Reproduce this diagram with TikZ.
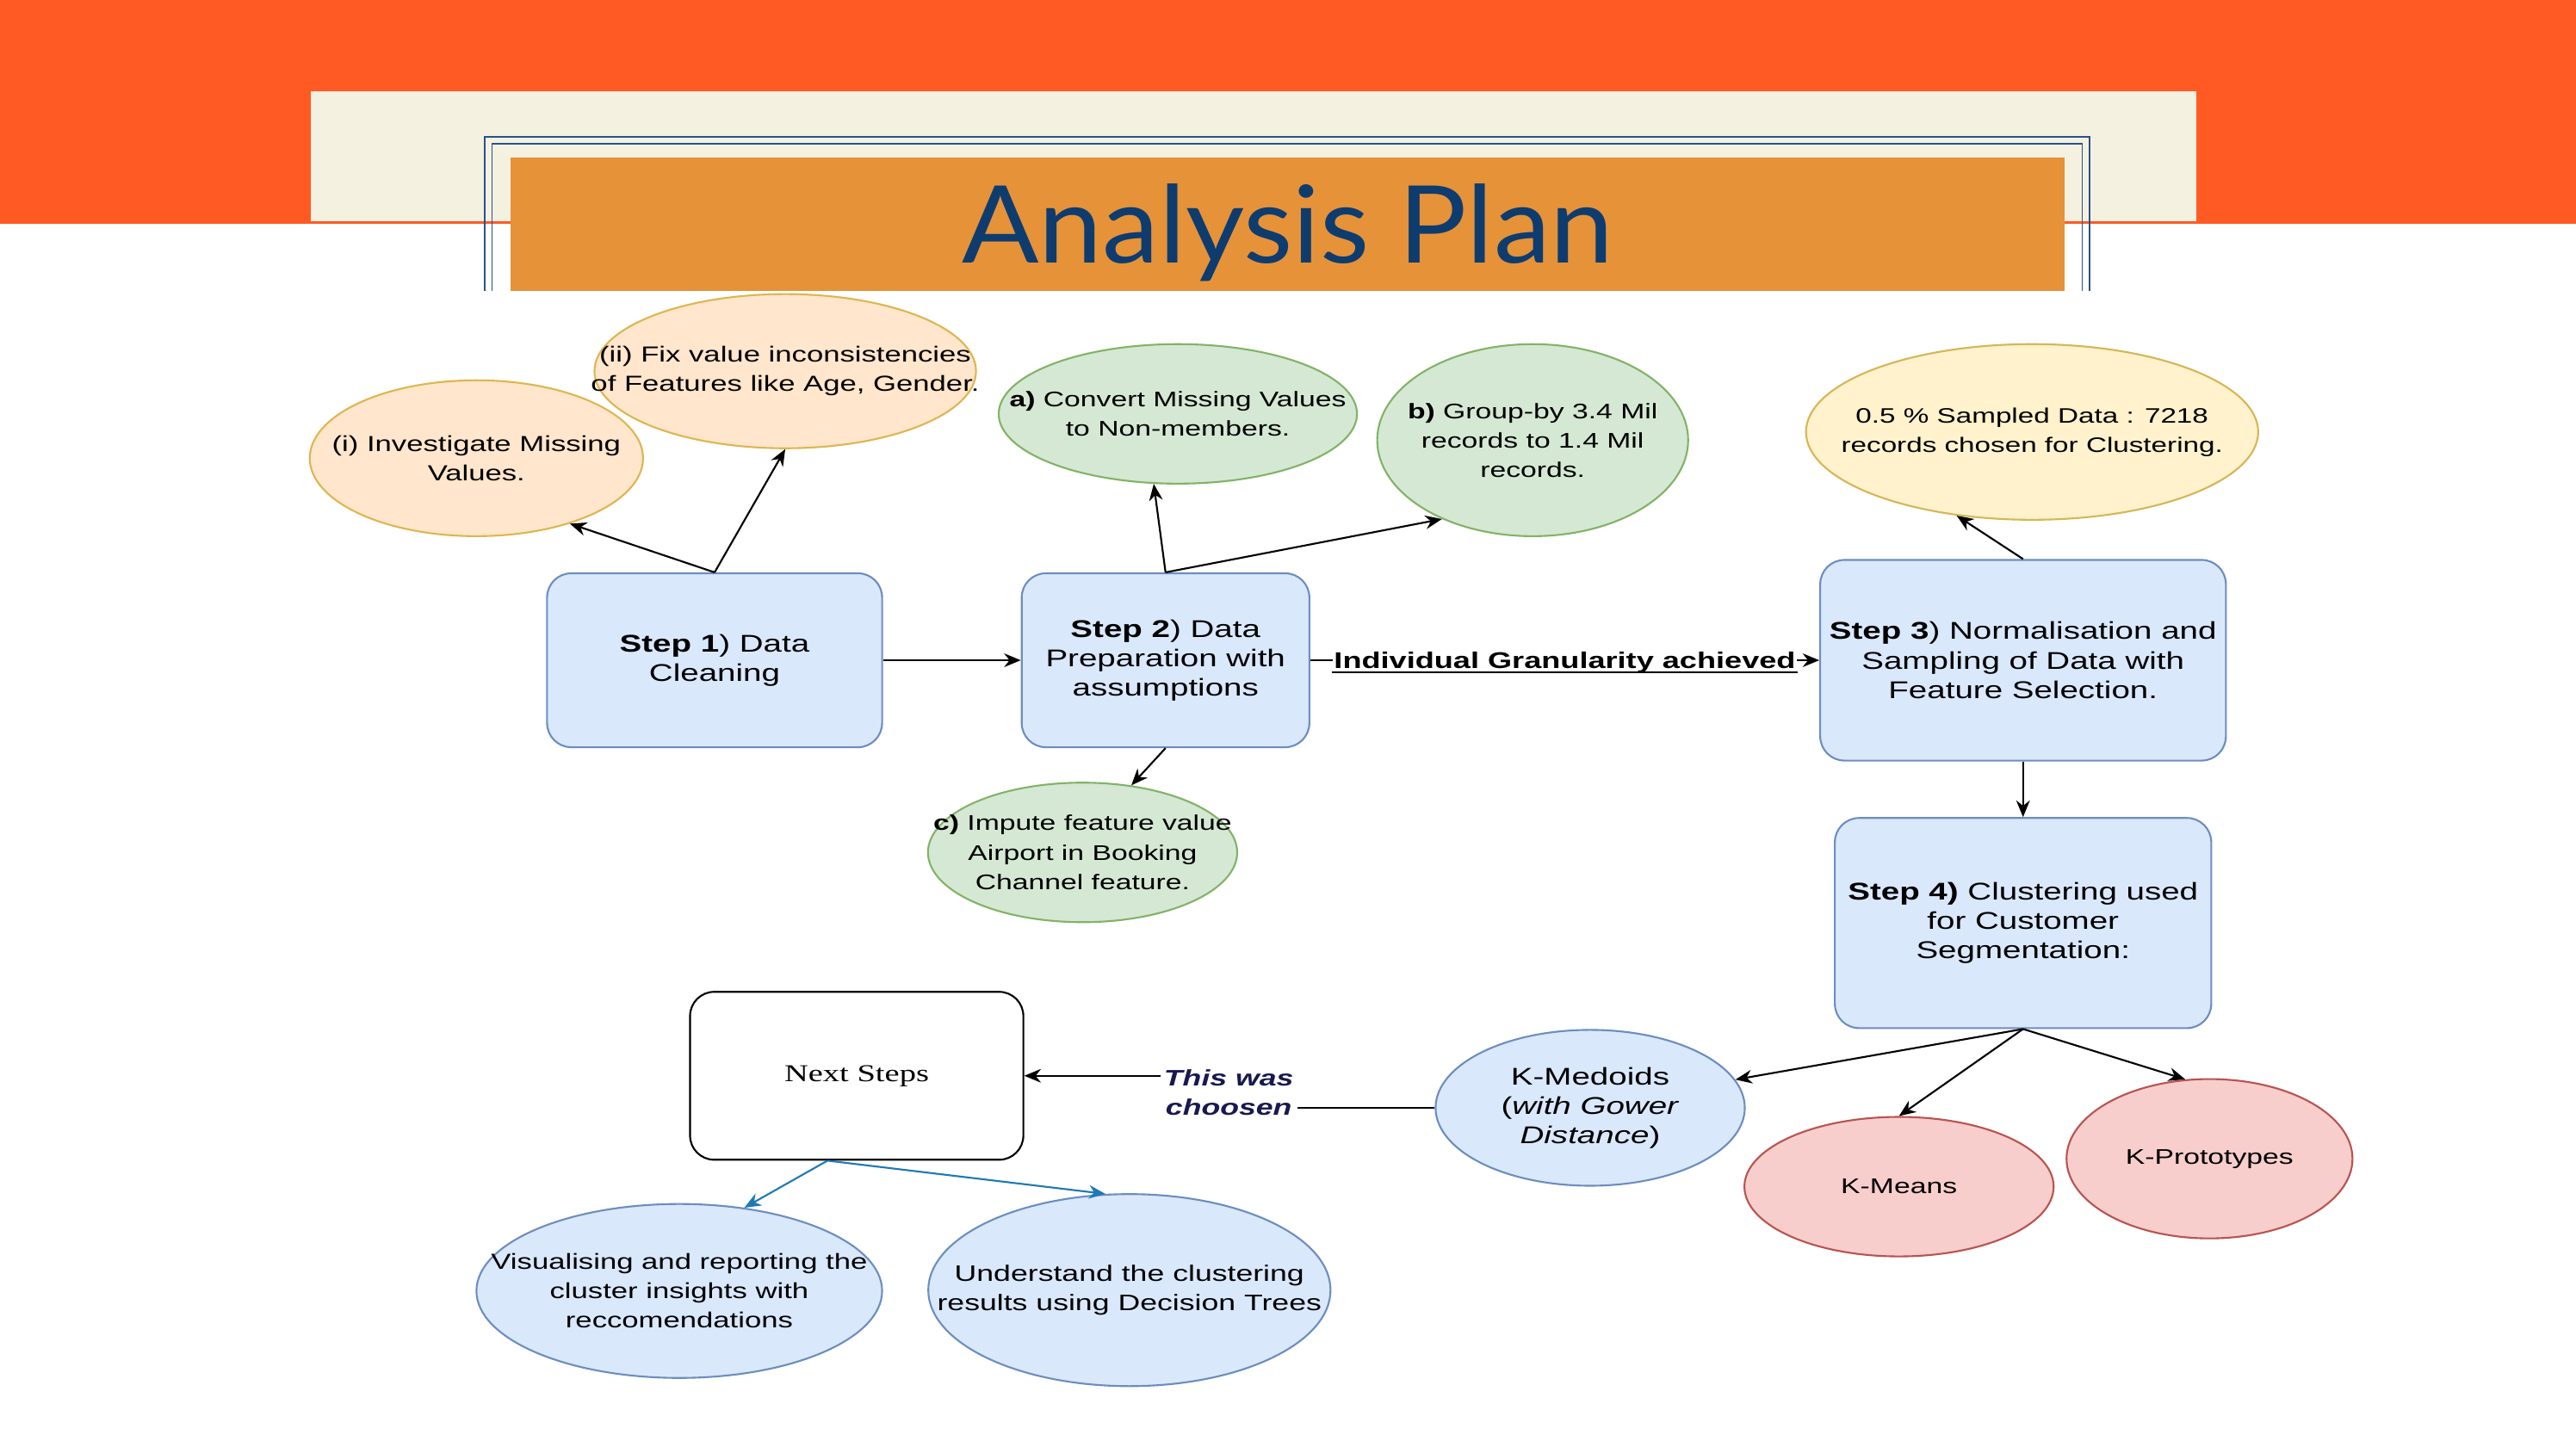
\documentclass[tikz,border=0pt]{standalone}
\usepackage{fontspec}
\usetikzlibrary{shapes.geometric,arrows.meta}
\newfontfamily\dfont{Liberation Sans}[FakeStretch=1.37]
\newfontfamily\dserif{Liberation Serif}[FakeStretch=1.37]
\newfontfamily\tfont{Lato}[FakeStretch=1.06]
\newcommand\fsz[1]{\fontsize{#1}{9.7}\selectfont}
\definecolor{bandC}{RGB}{255,90,36}
\definecolor{creamC}{RGB}{245,241,224}
\definecolor{titleC}{RGB}{229,146,57}
\definecolor{titletxt}{RGB}{14,60,110}
\definecolor{frameC}{RGB}{40,80,140}
\definecolor{blueF}{HTML}{DAE8FC}
\definecolor{blueD}{HTML}{6C8EBF}
\definecolor{orangeF}{HTML}{FFE6CC}
\definecolor{orangeD}{RGB}{222,182,80}
\definecolor{greenF}{HTML}{D5E8D4}
\definecolor{greenD}{HTML}{82B366}
\definecolor{yellowF}{HTML}{FFF2CC}
\definecolor{yellowD}{HTML}{D6B656}
\definecolor{redF}{HTML}{F8CECC}
\definecolor{redD}{HTML}{B85450}
\definecolor{navyT}{RGB}{25,25,80}
\definecolor{arrB}{RGB}{30,122,180}
\tikzset{
  arr/.style={-{Stealth[length=5.5pt,width=4.5pt]},line width=0.6pt},
  stepbox/.style={draw=blueD,fill=blueF,rounded corners=8pt,line width=0.6pt,align=center,inner sep=2pt,font=\dfont\fsz{8}},
  oval/.style 2 args={ellipse,draw=#2,fill=#1,line width=0.6pt},
  txt/.style={align=center,inner sep=0pt,font=\dfont\fsz{7.2}},
}
\begin{document}
\begin{tikzpicture}[x=0.01908cm,y=-0.01908cm]
    \useasboundingbox (0,0) rectangle (1568.1,881);
    \fill[white] (0,0) rectangle (1568.1,881);
    \fill[bandC] (0,0) rectangle (1568.1,136.3);
    \fill[creamC] (189.2,55.6) rectangle (1337,134.7);
    \draw[frameC,line width=0.5pt] (295,177) |- (1272,83.5) -- (1272,177);
    \draw[frameC,line width=0.5pt] (299.5,177) |- (1267.5,87.5) -- (1267.5,177);
    \fill[titleC] (311,96) rectangle (1257,177);
    \node[font=\tfont\fontsize{35.5}{40}\selectfont,text=titletxt,anchor=base,inner sep=0pt] (title) at (784,160) {Analysis Plan};

    \node[oval={orangeF}{orangeD},minimum width=4.43cm,minimum height=1.79cm] (fix) at (478,226) {};
    \node[txt] (fix-t) at (fix) {(ii) Fix value inconsistencies\\of Features like Age, Gender.};
    \node[oval={orangeF}{orangeD},minimum width=3.87cm,minimum height=1.81cm] (inv) at (290,279) {};
    \node[txt] (inv-t) at (inv) {(i) Investigate Missing\\Values.};
    \node[oval={greenF}{greenD},minimum width=4.16cm,minimum height=1.62cm] (conv) at (717,252) {};
    \node[txt,font=\dfont\fsz{7}] (conv-t) at (conv) {\textbf{a)} Convert Missing Values\\to Non-members.};
    \node[oval={greenF}{greenD},minimum width=3.61cm,minimum height=2.23cm] (grp) at (933,268) {};
    \node[txt,font=\dfont\fsz{7}] (grp-t) at (grp) {\textbf{b)} Group-by 3.4 Mil\\records to 1.4 Mil\\records.};
    \node[oval={yellowF}{yellowD},minimum width=5.25cm,minimum height=2.04cm] (samp) at (1237,263) {};
    \node[txt,font=\dfont\fsz{6.9}] (samp-t) at (samp) {0.5 \% Sampled Data : 7218\\records chosen for Clustering.};
    \node[oval={greenF}{greenD},minimum width=3.59cm,minimum height=1.62cm] (imp) at (659,519) {};
    \node[txt,font=\dfont\fsz{7}] (imp-t) at (imp) {\textbf{c)} Impute feature value\\Airport in Booking\\Channel feature.};

    \node[stepbox,minimum width=3.89cm,minimum height=2.02cm] (s1) at (435,402) {\textbf{Step 1}) Data\\Cleaning};
    \node[stepbox,minimum width=3.34cm,minimum height=2.02cm] (s2) at (709.5,402) {\textbf{Step 2}) Data\\Preparation with\\assumptions};
    \node[stepbox,minimum width=4.71cm,minimum height=2.33cm] (s3) at (1231.5,402) {\textbf{Step 3}) Normalisation and\\Sampling of Data with\\Feature Selection.};
    \node[stepbox,minimum width=4.37cm,minimum height=2.44cm] (s4) at (1231.5,562) {\textbf{Step 4)} Clustering used\\for Customer\\Segmentation:};
    \node[draw,rounded corners=8pt,line width=0.6pt,minimum width=3.87cm,minimum height=1.95cm,font=\dserif\fsz{8}] (nxt) at (521.5,655) {Next Steps};

    \node[oval={blueF}{blueD},minimum width=3.59cm,minimum height=1.81cm] (kmed) at (968,674.5) {};
    \node[txt,font=\dfont\fsz{8}] (kmed-t) at (kmed) {K-Medoids\\(\textit{with Gower}\\\textit{Distance})};
    \node[oval={redF}{redD},minimum width=3.59cm,minimum height=1.62cm] (kmeans) at (1156,722.5) {};
    \node[txt,font=\dfont\fsz{7}] (kmeans-t) at (kmeans) {K-Means};
    \node[oval={redF}{redD},minimum width=3.32cm,minimum height=1.85cm] (kproto) at (1345,705.5) {};
    \node[txt,font=\dfont\fsz{7}] (kproto-t) at (kproto) {K-Prototypes};
    \node[oval={blueF}{blueD},minimum width=4.71cm,minimum height=2.02cm] (vis) at (413.5,786) {};
    \node[txt] (vis-t) at (vis) {Visualising and reporting the\\cluster insights with\\reccomendations};
    \node[oval={blueF}{blueD},minimum width=4.67cm,minimum height=2.23cm] (und) at (687.5,785.5) {};
    \node[txt,font=\dfont\fsz{7.4}] (und-t) at (und) {Understand the clustering\\results using Decision Trees};

    \draw[arr] (s1.north) -- (inv.-35);
    \draw[arr] (s1.north) -- (fix.south);
    \draw[arr] (s1) -- (s2);
    \draw[arr] (s2.north) -- (conv.-109);
    \draw[arr] (s2.north) -- (grp.-139);
    \draw[arr] (s2.south) -- (imp.54);
    \draw[arr] (s2) -- (s3) node[midway,anchor=base,yshift=-2.8pt,fill=white,inner xsep=0.5pt,inner ysep=1.5pt,font=\dfont\fsz{7.5}\bfseries] (gran) {Individual Granularity achieved};
    \draw[line width=0.5pt] ([yshift=-1.2pt]gran.base west) -- ([yshift=-1.2pt]gran.base east);
    \draw[arr] (s3.north) -- (samp.-132);
    \draw[arr] (s3) -- (s4);
    \draw[arr] (s4.south) -- (kmed.11);
    \draw[arr] (s4.south) -- (kmeans.north);
    \draw[arr] (s4.south) -- (kproto.107);
    \node[align=center,inner sep=1pt,text=navyT,font=\dfont\fsz{7.4}\bfseries\itshape] (chosen) at (748,665) {This was\\choosen};
    \draw[line width=0.6pt] (kmed.west) -- (kmed.west -| chosen.east);
    \draw[arr] (chosen.west |- nxt.east) -- (nxt.east);
    \draw[arr,arrB] (nxt.-109) -- (vis.52);
    \draw[arr,arrB] (nxt.-109) -- (und.104);
\end{tikzpicture}
\end{document}
